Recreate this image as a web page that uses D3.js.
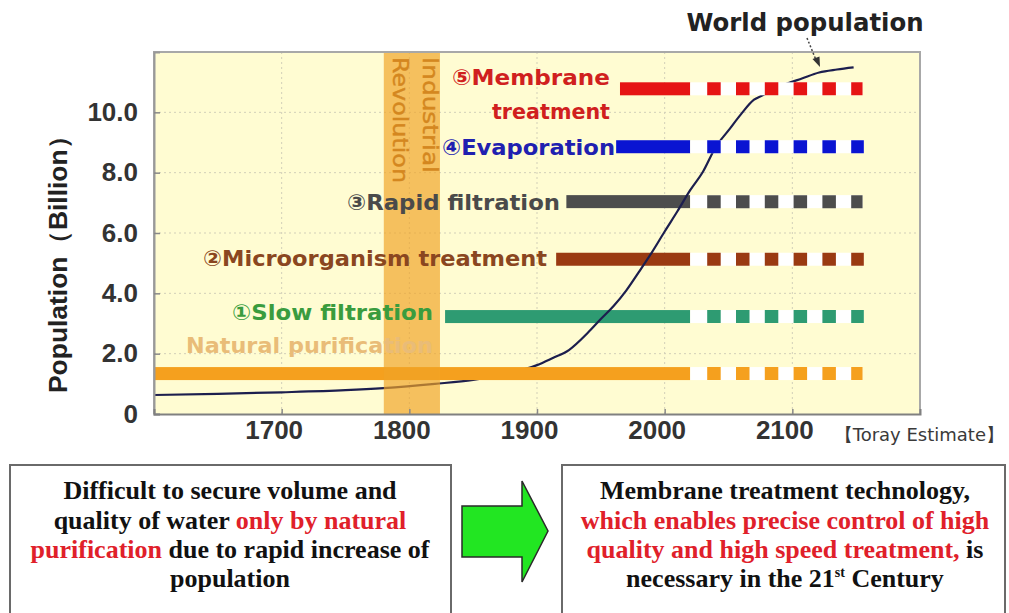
<!DOCTYPE html>
<html><head><meta charset="utf-8">
<script src="https://cdn.jsdelivr.net/npm/d3@7"></script>
<style>body{margin:0;background:#fff;} svg{display:block} text{white-space:pre}</style>
</head><body>
<svg id="c" width="1009" height="613"></svg>
<script>
// ---------- DATA ----------
const popYears  = [1600,1650,1700,1750,1780,1820,1850,1875,1900,1912,1925,1940,1950,1960,1970,1980,1990,2000,2010,2020,2030,2040,2050,2060,2070,2076,2090,2108,2121,2135,2148];
const popValues = [0.63,0.67,0.72,0.79,0.86,1.00,1.13,1.32,1.62,1.85,2.12,2.70,3.15,3.58,4.10,4.72,5.36,6.05,6.72,7.42,8.03,8.85,9.40,9.95,10.42,10.55,10.85,11.13,11.32,11.42,11.49];

const techLabels   = [["Natural purification"],["①Slow filtration"],["②Microorganism treatment"],["③Rapid filtration"],["④Evaporation"],["⑤Membrane","treatment"]];
const techLevels   = [1.34, 3.23, 5.13, 7.04, 8.86, 10.78];
const techStart    = [1600, 1828, 1915, 1923, 1962, 1965];
const techSolidEnd = [2020, 2020, 2020, 2020, 2020, 2020];
const techProjEnd  = [2155, 2156, 2156, 2155, 2156, 2155];

const yTicks = [0, 2, 4, 6, 8, 10];
const yTickLabels = ["0", "2.0", "4.0", "6.0", "8.0", "10.0"];
const xTicks = [1700, 1800, 1900, 2000, 2100];
const xTickLabels = ["1700", "1800", "1900", "2000", "2100"];
const industrialRevolution = [1780, 1824];

const leftLines = [
  [["Difficult to secure volume and", 0]],
  [["quality of water ", 0], ["only by natural", 1]],
  [["purification", 1], [" due to rapid increase of", 0]],
  [["population", 0]]
];
const rightLines = [
  [["Membrane treatment technology,", 0]],
  [["which enables precise control of high", 1]],
  [["quality and high speed treatment,", 1], [" is", 0]],
  [["necessary in the 21", 0], ["st", 0, "sup"], [" Century", 0]]
];

// ---------- STYLE / LAYOUT ----------
const barColors   = ["#F5A01E", "#2E9B72", "#9A3A12", "#4D4D4D", "#0A14D2", "#E61414"];
const labelColors = ["#E9BC78", "#3A9C3E", "#8A4620", "#4A4A4A", "#2020B0", "#D0201E"];
const labelRight  = [433, 433, 547, 560, 615, 610];
const labelLen    = [[247], [201], [344], [213], [173], [158, 118]];
const labelYOff   = [[-28.5], [-4.5], [-1], [0], [0], [-11.5, 22.5]];

const svg = d3.select("#c");
const L = 154, R = 920, T = 52, B = 414;
const x = d3.scaleLinear().domain([1600, 2200]).range([L, R]);
const y = d3.scaleLinear().domain([0, 12]).range([B, T]);
const barH = 13;

svg.append("defs").append("clipPath").attr("id", "clip")
  .append("rect").attr("x", L).attr("y", T).attr("width", R - L).attr("height", B - T);

// background
svg.append("rect").attr("x", L).attr("y", T).attr("width", R - L).attr("height", B - T).attr("fill", "#FFFCD2");

// grid
const grid = svg.append("g").attr("stroke", "#D2CFB8").attr("stroke-width", 1).attr("stroke-dasharray", "2,3");
grid.selectAll("line.h").data(yTicks.filter(d => d > 0)).join("line")
  .attr("x1", L).attr("x2", R).attr("y1", d => y(d)).attr("y2", d => y(d));
grid.selectAll("line.v").data(xTicks).join("line")
  .attr("y1", T).attr("y2", B).attr("x1", d => x(d)).attr("x2", d => x(d));

const plot = svg.append("g").attr("clip-path", "url(#clip)");
const idx = d3.range(techLevels.length);

// solid bars (techs 1-5)
plot.selectAll("rect.solid").data(idx.filter(i => i > 0)).join("rect")
  .attr("x", i => x(techStart[i])).attr("width", i => x(techSolidEnd[i]) - x(techStart[i]))
  .attr("y", i => y(techLevels[i]) - barH / 2).attr("height", barH)
  .attr("fill", i => barColors[i]);

// population curve
const line = d3.line().x((d, i) => x(popYears[i])).y(d => y(d)).curve(d3.curveMonotoneX);
plot.append("path").datum(popValues).attr("d", line)
  .attr("fill", "none").attr("stroke", "#1C1E4E").attr("stroke-width", 2.2);

// natural purification bar (on top of curve)
plot.selectAll("rect.nat").data(idx.filter(i => i === 0)).join("rect")
  .attr("x", i => x(techStart[i])).attr("width", i => x(techSolidEnd[i]) - x(techStart[i]))
  .attr("y", i => y(techLevels[i]) - barH / 2).attr("height", barH)
  .attr("fill", i => barColors[i]);

// projected (dashed) parts
plot.selectAll("rect.proj").data(idx).join("rect")
  .attr("x", i => x(techSolidEnd[i])).attr("width", i => x(techProjEnd[i]) - x(techSolidEnd[i]))
  .attr("y", i => y(techLevels[i]) - barH / 2).attr("height", barH)
  .attr("fill", "#FFFFFF");
plot.selectAll("line.proj").data(idx).join("line")
  .attr("x1", i => x(techSolidEnd[i]) + 17).attr("x2", i => x(techProjEnd[i]))
  .attr("y1", i => y(techLevels[i])).attr("y2", i => y(techLevels[i]))
  .attr("stroke", i => barColors[i]).attr("stroke-width", barH)
  .attr("stroke-dasharray", "13.5 15.3");

// industrial revolution band
plot.append("rect").attr("x", x(industrialRevolution[0])).attr("width", x(industrialRevolution[1]) - x(industrialRevolution[0]))
  .attr("y", T).attr("height", B - T).attr("fill", "rgba(240,163,38,0.68)");

// tech labels
idx.forEach(i => {
  techLabels[i].forEach((txt, k) => {
    svg.append("text").attr("x", labelRight[i]).attr("y", y(techLevels[i]) + labelYOff[i][k])
      .attr("dy", "0.36em").attr("text-anchor", "end")
      .attr("font-family", "DejaVu Sans, sans-serif").attr("font-weight", "bold").attr("font-size", 22)
      .attr("textLength", labelLen[i][k]).attr("lengthAdjust", "spacingAndGlyphs")
      .attr("fill", labelColors[i]).text(txt);
  });
});

// Industrial Revolution text
[["Industrial", 423, 116], ["Revolution", 393, 126]].forEach(([t, bx, len]) => {
  svg.append("text").attr("transform", `translate(${bx},57) rotate(90)`)
    .attr("font-family", "DejaVu Sans, sans-serif").attr("font-size", 22)
    .attr("textLength", len).attr("lengthAdjust", "spacingAndGlyphs")
    .attr("fill", "#D4871F").attr("stroke", "#D4871F").attr("stroke-width", 0.4).text(t);
});

// frame
svg.append("path").attr("d", `M${L},${B} V${T} H${R} V${B}`).attr("fill", "none").attr("stroke", "#A8A8A8").attr("stroke-width", 2);

// axes
const yAxis = d3.axisLeft(y).tickValues(yTicks).tickFormat((d, i) => yTickLabels[i]).tickSize(-6).tickPadding(16);
const gy = svg.append("g").attr("transform", `translate(${L},0)`).call(yAxis);
gy.select(".domain").attr("stroke", "#999").attr("stroke-width", 2);
gy.selectAll(".tick line").attr("stroke", "#888").attr("stroke-width", 1.5);
gy.selectAll(".tick text").attr("font-family", "Liberation Sans, Arial, sans-serif").attr("font-weight", "bold")
  .attr("font-size", 26).attr("fill", "#333");

const xAxis = d3.axisBottom(x).tickValues(xTicks).tickFormat((d, i) => xTickLabels[i]).tickSize(-5).tickPadding(7);
const gx = svg.append("g").attr("transform", `translate(0,${B})`).call(xAxis);
gx.select(".domain").attr("stroke", "#808080").attr("stroke-width", 2);
gx.selectAll(".tick line").attr("stroke", "#888").attr("stroke-width", 1.5);
gx.selectAll(".tick text").attr("font-family", "Liberation Sans, Arial, sans-serif").attr("font-weight", "bold")
  .attr("font-size", 26).attr("fill", "#333").attr("dx", -8);

// y title
svg.append("text").attr("transform", "translate(67,258) rotate(-90)").attr("text-anchor", "middle")
  .attr("font-family", "Liberation Sans, Arial, sans-serif").attr("font-weight", "bold").attr("font-size", 25)
  .attr("textLength", 270).attr("lengthAdjust", "spacingAndGlyphs")
  .attr("fill", "#222").text("Population（Billion）");

// Toray estimate
svg.append("text").attr("x", 1004).attr("y", 441).attr("text-anchor", "end")
  .attr("font-family", "DejaVu Sans, sans-serif").attr("font-size", 18).attr("fill", "#3a3a3a")
  .text("【Toray Estimate】");

// World population label + arrow
svg.append("text").attr("x", 805).attr("y", 31).attr("text-anchor", "middle")
  .attr("font-family", "DejaVu Sans, sans-serif").attr("font-weight", "bold").attr("font-size", 24)
  .attr("textLength", 237).attr("lengthAdjust", "spacingAndGlyphs")
  .attr("fill", "#222").text("World population");
svg.append("line").attr("x1", 807).attr("y1", 38).attr("x2", 816).attr("y2", 60)
  .attr("stroke", "#444").attr("stroke-width", 1.5).attr("stroke-dasharray", "2,2");
svg.append("path").attr("d", "M812.5,59 L820,67 L819.5,56.5 Z").attr("fill", "#333");

// bottom boxes
function box(x0, w, cx, lines) {
  svg.append("rect").attr("x", x0).attr("y", 465).attr("width", w).attr("height", 160)
    .attr("fill", "#fff").attr("stroke", "#6a6a6a").attr("stroke-width", 2);
  const base = [499, 529, 558, 587];
  lines.forEach((segs, li) => {
    const t = svg.append("text").attr("x", cx).attr("y", base[li]).attr("text-anchor", "middle")
      .attr("font-family", "Liberation Serif, Times New Roman, serif").attr("font-weight", "bold").attr("font-size", 26);
    let shifted = false;
    segs.forEach(s => {
      const ts = t.append("tspan").attr("fill", s[1] ? "#E0202A" : "#111").text(s[0]);
      if (s[2] === "sup") { ts.attr("font-size", 14).attr("dy", -10); shifted = true; }
      else if (shifted) { ts.attr("dy", 10); shifted = false; }
    });
  });
}
box(10, 441, 230, leftLines);
box(562, 443, 785, rightLines);

// green arrow
svg.append("path").attr("d", "M462,506 H522 V481 L548,531 L522,582 V557 H462 Z")
  .attr("fill", "#22E622").attr("stroke", "#2a2a2a").attr("stroke-width", 1.5);
</script>
</body></html>
